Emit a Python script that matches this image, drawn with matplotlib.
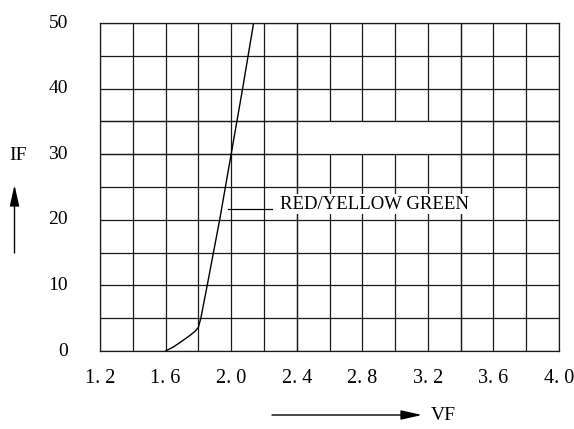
import matplotlib.pyplot as plt
from matplotlib.patches import Rectangle

# IF-VF curve for RED / YELLOW GREEN led
vf = [1.60, 1.65, 1.70, 1.75, 1.78, 1.80, 1.815, 1.854, 1.93, 2.00, 2.07, 2.137]
i_f = [0.0, 0.65, 1.5, 2.4, 3.0, 3.6, 5.0, 10.0, 20.0, 30.0, 40.0, 50.0]

x_ticks = [1.2, 1.6, 2.0, 2.4, 2.8, 3.2, 3.6, 4.0]
x_labels = ['1. 2', '1. 6', '2. 0', '2. 4', '2. 8', '3. 2', '3. 6', '4. 0']
y_ticks = [0, 10, 20, 30, 40, 50]
y_labels = ['0', '10', '20', '30', '40', '50']

label_text = 'RED/YELLOW GREEN'
leader_x = [1.98, 2.25]
leader_y = [21.7, 21.7]
label_x = 2.30

# blank band in the grid (x from 2.4 to 3.4, y from 30 to 35)
band_x, band_w = 2.4, 1.0
band_y, band_h = 30, 5

plt.rcParams['font.family'] = ['Liberation Serif', 'DejaVu Serif']

fig = plt.figure(figsize=(5.74, 4.29), dpi=100)
ax = fig.add_axes([100 / 574, 1 - 351 / 429, 459 / 574, 328 / 429])

ax.set_xlim(1.2, 4.0)
ax.set_ylim(0, 50)

grid_color = '#1a1a1a'
ax.set_xticks([1.2 + 0.2 * k for k in range(15)])
ax.set_yticks([5 * k for k in range(11)])
ax.grid(True, color=grid_color, linewidth=0.9)
ax.set_axisbelow(True)
ax.tick_params(length=0, labelbottom=False, labelleft=False)

# labels only every second line
for xt, xl in zip(x_ticks, x_labels):
    ax.text(xt, -4.2, xl, ha='center', va='center', fontsize=14.5)
for yt, yl in zip(y_ticks, y_labels):
    ax.text(1.2 - 0.195, yt, yl, ha='right', va='center', fontsize=14)

for sp in ax.spines.values():
    sp.set_color(grid_color)
    sp.set_linewidth(0.9)

ax.add_patch(Rectangle((band_x, band_y), band_w, band_h, facecolor='white',
                       edgecolor='none', zorder=1))
for yb in (band_y, band_y + band_h):
    ax.axhline(yb, color=grid_color, linewidth=0.9, zorder=1.5)
for xb in (band_x, band_x + band_w):
    ax.axvline(xb, color=grid_color, linewidth=0.9, zorder=1.5)

ax.plot(vf, i_f, color='black', linewidth=1.0, zorder=2)
ax.plot(leader_x, leader_y, color='black', linewidth=0.9, zorder=2)
ax.text(label_x, leader_y[0] + 0.7, label_text, ha='left', va='center',
        fontsize=13.5, zorder=3,
        bbox=dict(facecolor='white', edgecolor='none', pad=1))

# axis arrows and names
arrow = dict(arrowstyle='-|>,head_length=0.8,head_width=0.18', color='black',
             linewidth=1.0, shrinkA=0, shrinkB=0, mutation_scale=16)
ax.annotate('', xy=(14.5, 244), xytext=(14.5, 176), xycoords='figure pixels',
            textcoords='figure pixels', arrowprops=arrow)
ax.annotate('', xy=(422, 14), xytext=(272, 14), xycoords='figure pixels',
            textcoords='figure pixels', arrowprops=arrow)
fig.text(18 / 574, 273 / 429, 'IF', ha='center', va='center', fontsize=14)
fig.text(443 / 574, 14 / 429, 'VF', ha='center', va='center', fontsize=14)

fig.savefig('out.png', dpi=100)
